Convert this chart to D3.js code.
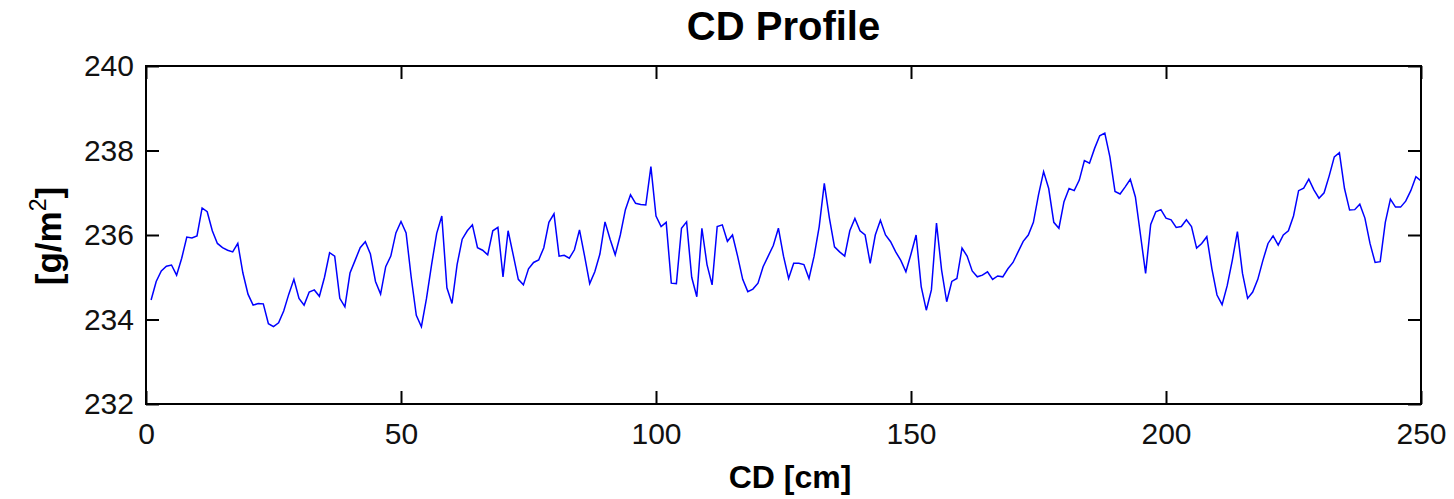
<!DOCTYPE html>
<html><head><meta charset="utf-8">
<script src="https://cdn.jsdelivr.net/npm/d3@7"></script>
<style>body{margin:0;background:#fff}svg{display:block}text{font-family:"Liberation Sans",Arial,sans-serif}</style>
</head><body>
<script>
const positionsCm = d3.range(1, 251);
const cdValues = [
234.46,234.9,235.15,235.26,235.29,235.05,235.45,235.95,235.93,235.98,
236.64,236.55,236.1,235.8,235.7,235.64,235.6,235.8,235.1,234.6,
234.34,234.38,234.37,233.9,233.83,233.92,234.2,234.6,234.95,234.5,
234.34,234.65,234.7,234.55,235.0,235.58,235.5,234.5,234.3,235.1,
235.4,235.7,235.84,235.55,234.9,234.6,235.25,235.5,236.05,236.32,
236.05,235.0,234.1,233.83,234.5,235.3,236.04,236.45,234.75,234.38,
235.3,235.9,236.1,236.24,235.7,235.64,235.53,236.1,236.18,235.01,
236.1,235.53,234.95,234.82,235.2,235.35,235.41,235.7,236.3,236.5,
235.5,235.52,235.45,235.65,236.12,235.5,234.85,235.13,235.55,236.31,
235.9,235.53,236.0,236.6,236.95,236.75,236.72,236.71,237.62,236.45,
236.2,236.3,234.86,234.85,236.16,236.31,235.0,234.54,236.16,235.3,
234.82,236.2,236.24,235.85,236.0,235.5,234.95,234.66,234.72,234.86,
235.25,235.5,235.75,236.16,235.5,234.97,235.33,235.33,235.3,234.97,
235.5,236.2,237.22,236.4,235.72,235.6,235.5,236.1,236.39,236.1,
236.0,235.33,236.0,236.35,236.0,235.84,235.6,235.4,235.13,235.55,
236.0,234.78,234.22,234.7,236.28,235.17,234.42,234.9,234.97,235.69,
235.5,235.15,235.01,235.05,235.13,234.95,235.03,235.01,235.2,235.35,
235.6,235.85,236.0,236.3,236.95,237.5,237.1,236.3,236.16,236.79,
237.1,237.05,237.3,237.76,237.7,238.05,238.35,238.41,237.85,237.03,
236.97,237.14,237.32,236.9,236.0,235.09,236.25,236.55,236.6,236.4,
236.36,236.18,236.2,236.36,236.2,235.69,235.8,235.96,235.2,234.58,
234.35,234.8,235.4,236.08,235.09,234.5,234.65,234.95,235.4,235.8,
235.98,235.76,236.0,236.1,236.45,237.05,237.11,237.32,237.07,236.87,
237.0,237.4,237.85,237.95,237.1,236.59,236.6,236.73,236.4,235.8,
235.35,235.37,236.3,236.85,236.66,236.66,236.8,237.05,237.38,237.28
];
const xTicks = [0, 50, 100, 150, 200, 250];
const yTicks = [232, 234, 236, 238, 240];
const titleText = "CD Profile";
const xLabel = "CD [cm]";

const W = 1454, H = 499;
const m = {left:146, right:33, top:66, bottom:95};
const svg = d3.select("body").append("svg").attr("width", W).attr("height", H);
const x = d3.scaleLinear().domain([0, 250]).range([m.left, W - m.right]);
const y = d3.scaleLinear().domain([232, 240]).range([H - m.bottom, m.top]);

const data = positionsCm.map((p, i) => ({x: p, y: cdValues[i]}));

svg.append("path").datum(data)
  .attr("fill", "none").attr("stroke", "#0000ff").attr("stroke-width", 1.5)
  .attr("d", d3.line().x(d => x(d.x)).y(d => y(d.y)));

const tl = 13;
const axisStyle = g => {
  g.select(".domain").remove();
  g.selectAll("line").attr("stroke", "#000").attr("stroke-width", 2);
  g.selectAll("text").attr("fill", "#111").style("font-size", "30px");
};
svg.append("g").attr("transform", `translate(0,${H - m.bottom})`)
  .call(d3.axisBottom(x).tickValues(xTicks).tickSize(-tl).tickPadding(tl + 6).tickFormat(d3.format("d")))
  .call(axisStyle);
svg.append("g").attr("transform", `translate(0,${m.top})`)
  .call(d3.axisTop(x).tickValues(xTicks).tickSize(-tl).tickFormat(""))
  .call(axisStyle);
svg.append("g").attr("transform", `translate(${m.left},0)`)
  .call(d3.axisLeft(y).tickValues(yTicks).tickSize(-tl).tickPadding(12).tickFormat(d3.format("d")))
  .call(axisStyle);
svg.append("g").attr("transform", `translate(${W - m.right},0)`)
  .call(d3.axisRight(y).tickValues(yTicks).tickSize(-tl).tickFormat(""))
  .call(axisStyle);

svg.append("rect").attr("x", m.left).attr("y", m.top)
  .attr("width", W - m.left - m.right).attr("height", H - m.top - m.bottom)
  .attr("fill", "none").attr("stroke", "#000").attr("stroke-width", 2);

svg.append("text").attr("x", (m.left + W - m.right) / 2).attr("y", 40)
  .attr("text-anchor", "middle").style("font-size", "40px").style("font-weight", "bold").text(titleText);

svg.append("text").attr("x", 790).attr("y", 488)
  .attr("text-anchor", "middle").style("font-size", "32px").style("font-weight", "bold").text(xLabel);

const yl = svg.append("text").attr("transform", "translate(61,236) rotate(-90)")
  .attr("text-anchor", "middle").style("font-size", "35px").style("font-weight", "bold");
yl.append("tspan").text("[g/m");
yl.append("tspan").attr("dy", -15).style("font-size", "23px").style("font-weight", "normal").text("2");
yl.append("tspan").attr("dy", 15).text("]");
</script>
</body></html>
